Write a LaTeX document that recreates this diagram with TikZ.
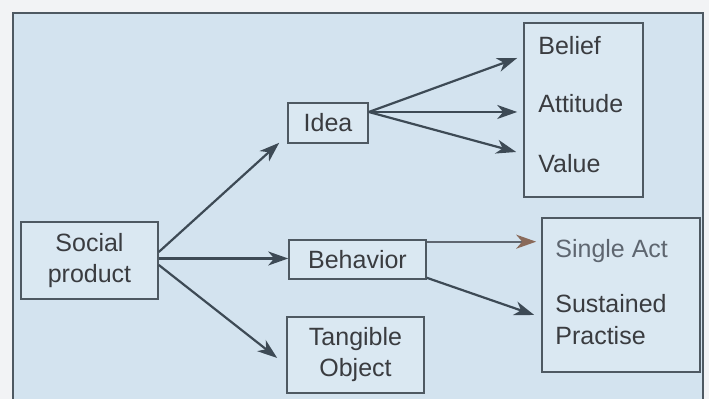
\documentclass[tikz,border=0pt]{standalone}
\usepackage{fontspec}
\setmainfont{Liberation Sans}
\usetikzlibrary{arrows.meta,calc}
\definecolor{paper}{HTML}{F2F3F5}
\definecolor{bgblue}{HTML}{D3E3EF}
\definecolor{boxblue}{HTML}{DAE8F2}
\definecolor{linegray}{HTML}{4E5962}
\definecolor{arrowgray}{HTML}{3D4A55}
\definecolor{textgray}{HTML}{3A3C40}
\definecolor{lighttext}{HTML}{5E6670}
\definecolor{headbrown}{HTML}{8A6A5A}
\begin{document}
\begin{tikzpicture}[x=0.5pt,y=0.5pt,font=\fontsize{12.5}{15.5}\selectfont,
	>={Stealth[length=10pt,width=7pt,inset=3pt]},
	box/.style={draw=linegray,line width=0.8pt,fill=boxblue,text=textgray,inner sep=0pt,align=center},
	item/.style={anchor=base west,inner sep=0pt,text=textgray},
	link/.style={->,draw=arrowgray,line width=1.1pt}]
	\useasboundingbox (0,0) rectangle (709,399);
	\fill[paper] (0,0) rectangle (709,399);
	\fill[bgblue] (13,-5) rectangle (703,386);
	\draw[line width=0.8pt,linegray] (13,-5) -- (13,386) -- (703,386) -- (703,-5);
	\node[box,minimum width=68.5pt,minimum height=38.5pt] (social) at (89.5,138.5) {Social\\product};
	\node[box,minimum width=40pt,minimum height=20pt] (idea) at (328,276) {Idea};
	\node[box,minimum width=68.5pt,minimum height=19.5pt] (behavior) at (357.5,139.5) {Behavior};
	\node[box,minimum width=68.5pt,minimum height=38pt] (tangible) at (355.5,44) {Tangible\\Object};
	\node[box,minimum width=59.5pt,minimum height=87pt] (beliefbox) at (583.5,289) {};
	\node[box,minimum width=79pt,minimum height=77pt] (actbox) at (621,104) {};
	\node[item] (belief) at (538,344) {Belief};
	\node[item] (attitude) at (538,286) {Attitude};
	\node[item] (value) at (538,226) {Value};
	\node[item,text=lighttext] (single) at (555,141) {Single Act};
	\node[item] (sustained) at (555,86) {Sustained};
	\node[item] (practise) at (555,54) {Practise};
	\draw[link] ([yshift=4.25pt]social.east) -- ([shift={(-4pt,0.5pt)}]idea.south west);
	\draw[link] ([yshift=1pt]social.east) -- ($(social.east -| behavior.west)+(0,1pt)$);
	\draw[link] ([yshift=-2.25pt]social.east) -- ([shift={(-4.5pt,-1.5pt)}]tangible.west);
	\draw[link] ([yshift=5.5pt]idea.east) -- ([shift={(-3pt,26pt)}]beliefbox.west);
	\draw[link] ([yshift=5.5pt]idea.east) -- ([shift={(-3pt,-1pt)}]beliefbox.west);
	\draw[link] ([yshift=5.5pt]idea.east) -- ([shift={(-3.5pt,-21pt)}]beliefbox.west);
	\draw[link,draw=lighttext,-{Stealth[length=10pt,width=7pt,inset=3pt,color=headbrown]}] ([yshift=-1.25pt]behavior.north east) -- ($(behavior.north east -| actbox.west)+(-2.5pt,-1.25pt)$);
	\draw[link] ([yshift=1pt]behavior.south east) -- ([shift={(-3.5pt,-10pt)}]actbox.west);
\end{tikzpicture}
\end{document}
